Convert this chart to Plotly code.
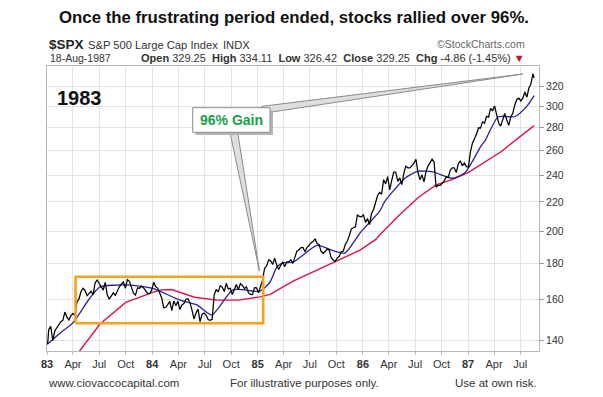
import math
import pandas as pd
import plotly.graph_objects as go

# ---------------- data ----------------
week_ends = pd.date_range('1983-01-07', '1987-08-14', freq='W-FRI')
price_dates = [pd.Timestamp('1983-01-03')] + list(week_ends) + [pd.Timestamp('1987-08-18')]

first_close = [138.3]
close_1983 = [145.2, 146.7, 140.0, 144.5,
              146.1, 148.0, 149.0, 149.6,
              153.7, 151.2, 149.8, 151.9,
              153.0, 151.8, 158.8, 160.4, 164.4,
              166.1, 164.9, 162.1, 163.4,
              164.4, 162.7, 169.1, 170.6,
              168.8, 167.1, 165.1, 169.3, 162.6,
              160.3, 162.2, 163.6, 162.3,
              165.0, 166.9, 168.3, 169.5, 166.1,
              170.8, 169.9, 165.9, 163.4,
              162.4, 166.3, 166.1, 167.2,
              166.3, 165.0, 163.3, 163.2, 164.9]
close_1984 = [169.3, 167.0, 166.2, 163.9,
              160.9, 155.9, 156.1, 157.5,
              159.2, 154.4, 159.3, 156.9, 159.2,
              155.0, 157.3, 158.0, 160.2,
              160.5, 158.5, 154.7, 150.3,
              153.2, 155.2, 149.0, 152.6, 153.2,
              152.2, 150.0, 149.6, 150.1,
              162.4, 165.4, 164.1, 167.5, 166.7,
              164.3, 168.8, 165.7, 166.1,
              162.7, 165.8, 168.1, 165.3,
              168.6, 167.6, 165.9, 166.9, 163.6,
              162.8, 162.7, 166.4, 166.3]
close_1985 = [163.7, 167.9, 170.7, 177.3,
              178.6, 182.2, 181.6, 179.4,
              183.2, 179.1, 176.5, 179.0, 180.7,
              178.2, 181.0, 181.1, 182.2,
              180.1, 184.3, 187.4, 188.3, 189.6,
              189.7, 187.1, 189.6, 191.2,
              192.5, 193.3, 195.1, 192.1,
              191.5, 187.3, 186.1, 187.2, 188.6,
              188.2, 183.4, 182.1, 181.3,
              183.2, 184.3, 187.0, 187.5,
              191.5, 193.7, 197.1, 201.5, 202.2,
              202.9, 210.7, 209.8, 209.6]
close_1986 = [210.9, 205.8, 208.4, 204.3, 211.8,
              214.6, 219.8, 224.6, 226.9,
              225.6, 236.5, 233.3, 238.9,
              228.7, 235.9, 242.4, 242.3,
              235.2, 237.9, 232.8, 241.4, 247.4,
              245.7, 245.7, 247.6, 249.6,
              252.7, 242.2, 236.4, 240.2,
              234.9, 243.0, 247.2, 250.2, 252.9,
              250.5, 230.7, 232.2, 232.2,
              233.7, 235.5, 238.8, 238.3, 244.0,
              245.8, 245.8, 242.0, 249.2,
              251.2, 247.4, 249.7, 246.8]
close_1987 = [246.5, 258.7, 266.3, 270.1, 274.1,
              280.0, 279.7, 285.5, 284.2,
              290.7, 289.9, 298.2, 296.1,
              300.5, 292.5, 284.4, 281.5,
              288.0, 293.4, 287.4, 282.2, 290.1,
              293.5, 301.6, 307.0, 308.4,
              305.6, 308.4, 314.6, 309.3, 318.7,
              323.0, 334.0]
last_close = [329.25]
spx_close = first_close + close_1983 + close_1984 + close_1985 + close_1986 + close_1987 + last_close

ma50_dates = ['1983-01-03', '1983-02-15', '1983-04-01', '1983-05-28', '1983-07-03',
              '1983-10-01', '1984-01-03', '1984-04-06', '1984-06-04', '1984-07-26',
              '1984-10-07', '1985-01-09', '1985-02-13', '1985-03-09', '1985-03-30',
              '1985-05-04', '1985-07-26', '1985-09-20', '1985-10-31', '1985-12-22',
              '1986-01-08', '1986-03-01', '1986-03-18', '1986-05-27', '1986-07-11',
              '1986-09-01', '1986-11-06', '1986-12-21', '1987-02-15', '1987-03-01',
              '1987-04-15', '1987-06-13', '1987-07-24', '1987-08-18']
ma50_values = [138.5, 143.5, 148.4, 160.5, 166.7,
               167.9, 166.0, 159.8, 157.3, 152.3,
               165.2, 164.5, 169.5, 178.1, 180.4,
               180.8, 190.9, 187.7, 186.3, 198.8,
               202.4, 213.7, 220.3, 237.6, 243.1,
               242.5, 237.6, 241.8, 264.0, 268.5,
               290.0, 290.5, 300.5, 311.0]

ma200_dates = ['1983-03-01', '1983-04-25', '1983-07-03', '1983-10-01', '1984-01-03',
               '1984-01-31', '1984-03-08', '1984-05-27', '1984-08-11', '1984-10-27',
               '1985-01-09', '1985-02-13', '1985-05-04', '1985-08-29', '1985-10-15',
               '1985-12-22', '1986-02-15', '1986-03-01', '1986-05-06', '1986-07-11',
               '1986-09-12', '1986-11-06', '1987-01-01', '1987-02-15', '1987-04-24',
               '1987-08-18']
ma200_values = [127.0, 135.5, 147.7, 158.6, 163.9,
                165.2, 165.4, 161.3, 159.8, 159.8,
                161.5, 162.8, 170.0, 179.0, 182.7,
                188.0, 194.7, 197.7, 210.5, 223.0,
                232.5, 236.6, 242.0, 248.5, 258.8,
                282.0]

y_ticks = [140, 160, 180, 200, 220, 240, 260, 280, 300, 320]
x_tick_dates = list(pd.date_range('1983-01-01', '1987-07-01', freq='QS'))
x_tick_text = ['<b>83</b>', 'Apr', 'Jul', 'Oct', '<b>84</b>', 'Apr', 'Jul', 'Oct',
               '<b>85</b>', 'Apr', 'Jul', 'Oct', '<b>86</b>', 'Apr', 'Jul', 'Oct',
               '<b>87</b>', 'Apr', 'Jul']

box_start, box_end = '1983-04-10', '1985-01-20'
box_low, box_high = 148.2, 172.4

# ---------------- layout helpers ----------------
W, H = 603, 397
L, R, T, B = 47, 64, 66, 46
PW, PH = W - L - R, H - T - B
FONT = 'Liberation Sans, Arial, sans-serif'


def px(x, y):
    return (x - L) / PW, (H - B - y) / PH


fig = go.Figure()
fig.add_trace(go.Scatter(x=ma200_dates, y=ma200_values, mode='lines',
                         line=dict(color='#dc1446', width=1.4), hoverinfo='skip'))
fig.add_trace(go.Scatter(x=ma50_dates, y=ma50_values, mode='lines',
                         line=dict(color='#25259a', width=1.3, shape='spline', smoothing=0.6),
                         hoverinfo='skip'))
fig.add_trace(go.Scatter(x=price_dates, y=spx_close, mode='lines',
                         line=dict(color='#000000', width=1.25), hoverinfo='skip'))
fig.add_trace(go.Scatter(x=[box_start, box_end, box_end, box_start, box_start],
                         y=[box_low, box_low, box_high, box_high, box_low], mode='lines',
                         line=dict(color='#f5a21e', width=2.6), hoverinfo='skip'))

shapes = []


def path_shape(points, fill, line):
    d = 'M ' + ' L '.join(f'{px(a, b)[0]:.5f},{px(a, b)[1]:.5f}' for a, b in points) + ' Z'
    return dict(type='path', xref='paper', yref='paper', path=d, fillcolor=fill,
                line=dict(color=line, width=1), layer='above')


shapes.append(path_shape([(229, 128), (259.5, 271), (237, 128)], '#dedede', '#8a8a8a'))
shapes.append(path_shape([(262, 106.3), (523, 74), (262, 113.5)], '#dedede', '#8a8a8a'))
x0, y0 = px(195.5, 110.5)
x1, y1 = px(273, 135)
shapes.append(dict(type='rect', xref='paper', yref='paper', x0=x0, x1=x1, y0=y0, y1=y1,
                   fillcolor='#b5b5b5', line=dict(width=0), layer='above'))
x0, y0 = px(192.7, 107.7)
x1, y1 = px(270, 132.3)
shapes.append(dict(type='rect', xref='paper', yref='paper', x0=x0, x1=x1, y0=y0, y1=y1,
                   fillcolor='white', line=dict(color='#8c8c8c', width=1), layer='above'))

annotations = []


def text(t, x, y, size, anchor='left', color='#111', bold=False):
    ax, ay = px(x, y)
    annotations.append(dict(text=f'<b>{t}</b>' if bold else t, x=ax, y=ay, xref='paper',
                            yref='paper', xanchor=anchor, yanchor='middle', showarrow=False,
                            font=dict(family=FONT, size=size, color=color)))


text('Once the frustrating period ended, stocks rallied over 96%.', 294, 18, 16.8,
     'center', '#111', True)
text('$SPX', 47, 44, 13.5, 'left', '#222', True)
text('S&amp;P 500 Large Cap Index', 86, 45, 11.2, 'left', '#333')
text('INDX', 221, 45, 11.2, 'left', '#333')
text('©StockCharts.com', 527, 44, 10.5, 'right', '#666')
text('18-Aug-1987', 48, 58, 10.5, 'left', '#333')
text('<b>Open</b> 329.25  <b>High</b> 334.11  <b>Low</b> 326.42  <b>Close</b> 329.25  '
     '<b>Chg</b> -4.86 (-1.45%) <span style="color:#c8102e">▼</span>', 527, 58, 11,
     'right', '#333')
text('1983', 55, 97.5, 20, 'left', '#111', True)
text('96% Gain', 231.4, 120, 14, 'center', '#17a04a', True)
text('www.ciovaccocapital.com', 45.5, 383, 11.5, 'left', '#333')
text('For illustrative purposes only.', 304.8, 383, 11.5, 'center', '#333')
text('Use at own risk.', 538.5, 383, 11.5, 'right', '#333')

fig.update_layout(
    width=W, height=H, margin=dict(l=L, r=R, t=T, b=B),
    paper_bgcolor='white', plot_bgcolor='white', showlegend=False,
    shapes=shapes, annotations=annotations,
    xaxis=dict(type='date', range=['1983-01-01', '1987-09-04'], tickmode='array',
               tickvals=x_tick_dates, ticktext=x_tick_text, showgrid=True,
               gridcolor='#e3e3e3', gridwidth=1, showline=True, mirror=True,
               linecolor='#b8b8b8', linewidth=1, ticks='outside', ticklen=3,
               tickcolor='#c0c0c0', tickfont=dict(family=FONT, size=11, color='#333'),
               zeroline=False, fixedrange=True),
    yaxis=dict(type='log', range=[math.log10(135.4), math.log10(342.4)], side='right',
               tickmode='array', tickvals=y_ticks, ticktext=[str(v) for v in y_ticks],
               showgrid=True, gridcolor='#e3e3e3', gridwidth=1, showline=True, mirror=True,
               linecolor='#b8b8b8', linewidth=1, ticks='outside', ticklen=4,
               tickcolor='#999', tickfont=dict(family=FONT, size=10.5, color='#333'),
               zeroline=False, fixedrange=True),
)

fig.write_html('out.html', config={'displayModeBar': False},
               post_script="document.body.style.margin='0px';"
                           "document.body.style.overflow='hidden';")
